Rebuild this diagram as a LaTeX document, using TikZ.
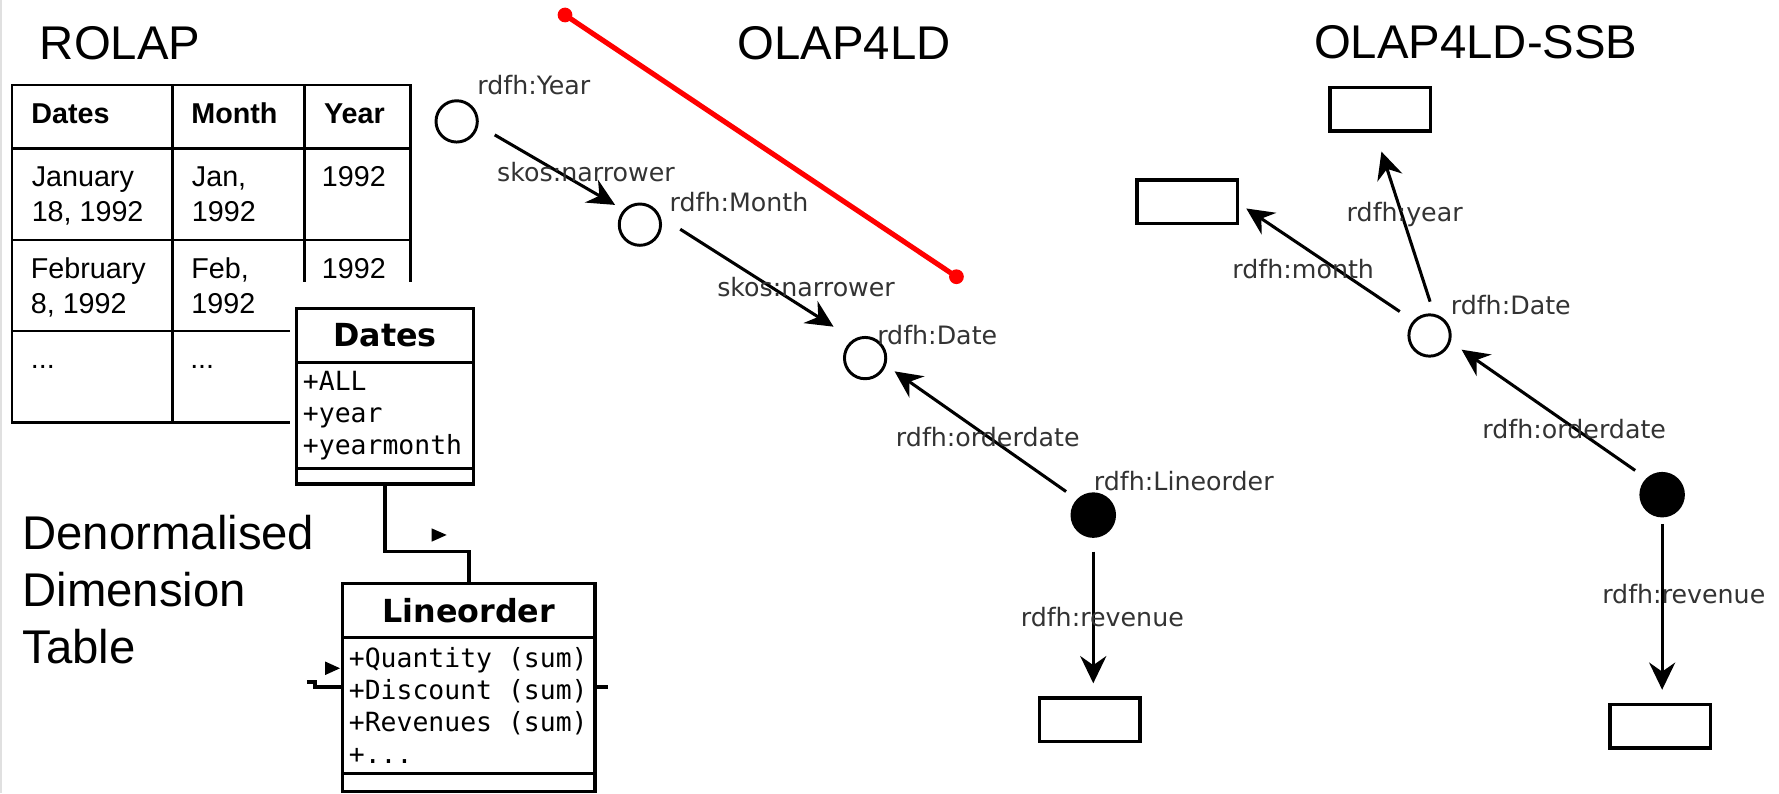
\documentclass[tikz,border=0pt]{standalone}
\usepackage{fontspec}
\setmainfont{Liberation Sans}
\newfontfamily\rdffont{DejaVu Sans}
\newfontfamily\umlfont{DejaVu Sans Mono}[WordSpace={1,0,0}]
\usepackage{tikz}
\usetikzlibrary{arrows.meta, positioning}
\tikzstyle{heading} = [font=\fontsize{41.7}{50}\selectfont, inner sep=0pt, anchor=base west]
\tikzstyle{cell} = [font=\fontsize{25.3}{30.7}\selectfont, inner sep=0pt, anchor=base west, align=left]
\tikzstyle{colhead} = [cell, font=\fontsize{25.3}{30.7}\selectfont\bfseries]
\tikzstyle{grid} = [line width=2.4pt]
\tikzstyle{umlbox} = [draw, rectangle, fill=white, line width=3pt, outer sep=0pt, inner sep=0pt]
\tikzstyle{umlname} = [umlbox, font=\rdffont\fontsize{28}{32}\selectfont\bfseries]
\tikzstyle{umlattrs} = [umlbox, font=\umlfont\fontsize{23.3}{28}\selectfont, align=left, inner xsep=5.5pt, execute at begin node={\spaceskip=0pt\relax}]
\tikzstyle{assoc} = [line width=3pt]
\tikzstyle{resource} = [draw, circle, line width=2.6pt, minimum size=36.4pt, inner sep=0pt, outer sep=0pt]
\tikzstyle{fact} = [resource, fill=black, minimum size=37.5pt]
\tikzstyle{literal} = [draw, rectangle, line width=3pt, minimum width=88.6pt, minimum height=38.5pt, outer sep=0pt]
\tikzstyle{prop} = [font=\rdffont\fontsize{22.3}{26}\selectfont, text=black!80, inner sep=0pt, anchor=base west]
\tikzstyle{link} = [-{Stealth[length=24pt, width=23pt, inset=8pt]}, line width=2.7pt]
\tikzstyle{marker} = [red, line width=4.5pt]

\begin{document}
\begin{tikzpicture}[x=1pt, y=-1pt]
    \useasboundingbox (0,0) rectangle (1568,699);
    \draw [black!12, line width=1.5pt] (0.8,0) -- (0.8,699);

    % Headings (a multi-line node sits on its last baseline).
    \node (rolap) [heading] at (35,52.3) {ROLAP};
    \node (olap) [heading] at (650,52.3) {OLAP4LD};
    \node (ssb) [heading] at (1158,51.4) {OLAP4LD-SSB};
    \node (denorm) [heading, align=left] at (19.6,584.7) {Denormalised\\Dimension\\Table};

    % Dimension table.
    \draw [grid] (10.5,74.9) rectangle (361.7,372.5);
    \foreach\x in {152.3, 268.3} {
        \draw [grid] (\x,74.9) -- (\x,372.5);
    }
    \foreach\y in {130.7, 211.5, 291.7} {
        \draw [grid] (10.5,\y) -- (361.7,\y);
    }

    \node (hdDates) [colhead] at (27.5,108.7) {Dates};
    \node (hdMonth) [colhead] at (168.5,108.7) {Month};
    \node (hdYear) [colhead] at (285.5,108.7) {Year};

    \node (day1) [cell] at (27.8,195.2) {January\\18, 1992};
    \node (month1) [cell] at (169,195.2) {Jan,\\1992};
    \node (year1) [cell] at (283.5,164.5) {1992};
    \node (day2) [cell] at (27,276) {February\\8, 1992};
    \node (month2) [cell] at (168.5,276) {Feb,\\1992};
    \node (year2) [cell] at (283.5,245.3) {1992};
    \node (day3) [cell] at (27,325) {...};
    \node (month3) [cell] at (167.5,325) {...};

    % The class diagram lies over the table.
    \fill [white] (255.6,248.5) rectangle (366,380);

    % Classes.
    \node (datesName) [umlname, minimum width=155.7pt, minimum height=47.8pt] at (339.4,295.7) {Dates};
    \node (datesAttrs) [umlattrs, below=0pt of datesName, text width=144.7pt, minimum height=93.2pt] {+ALL\\+year\\+yearmonth};
    \node (datesOps) [umlbox, below=0pt of datesAttrs, minimum width=155.7pt, minimum height=13.8pt] {};

    \node (lineName) [umlname, minimum width=222.4pt, minimum height=47.6pt] at (413.2,537.9) {Lineorder};
    \node (lineAttrs) [umlattrs, below=0pt of lineName, text width=211.4pt, minimum height=119.9pt] {+Quantity (sum)\\+Discount (sum)\\+Revenues (sum)\\+...};
    \node (lineOps) [umlbox, below=0pt of lineAttrs, minimum width=222.4pt, minimum height=16.1pt] {};

    \draw [assoc] (datesOps.south) -- ++(0,59.6) -| (lineName.north);
    \fill (380.5,465.7) -- (393.7,471.5) -- (380.5,477.4) -- cycle;

    \coordinate (stubLeft) at (270.5,601);
    \coordinate (stubJog) at (277.6,605.5);
    \coordinate (stubRight) at (536,605.5);
    \draw [assoc] (stubLeft) -| (stubJog) -- (stubJog -| lineAttrs.west);
    \draw [assoc] (stubRight -| lineAttrs.east) -- (stubRight);
    \fill (286.5,583) -- (299.7,589) -- (286.5,595) -- cycle;

    % OLAP4LD.
    \node (year4ld) [resource] at (402.5,107) {};
    \node (month4ld) [resource] at (564,198) {};
    \node (date4ld) [resource] at (762.5,315.6) {};
    \node (order4ld) [fact] at (963.6,454) {};
    \node (revenue4ld) [literal] at (960.5,634.3) {};

    \draw [link, shorten <=18pt, shorten >=9.9pt] (year4ld.-9.4) -- (month4ld.137.4);
    \draw [link, shorten <=22.9pt, shorten >=22.2pt] (month4ld.27.1) -- (date4ld.120.6);
    \draw [link, shorten <=13.1pt, shorten >=10.6pt] (order4ld.135.3) -- (date4ld.-18.9);
    \draw [link, shorten <=13.4pt, shorten >=12.8pt] (order4ld.south) -- (order4ld.south |- revenue4ld.north);

    \node (year4ldLbl) [prop] at (420.5,83.7) {rdfh:Year};
    \node (month4ldLbl) [prop] at (590,186.6) {rdfh:Month};
    \node (date4ldLbl) [prop] at (773,304) {rdfh:Date};
    \node (order4ldLbl) [prop] at (964,431.9) {rdfh:Lineorder};
    \node (narrower1) [prop] at (438,160) {skos:narrower};
    \node (narrower2) [prop] at (632,261.5) {skos:narrower};
    \node (orderdate4ld) [prop] at (789.5,393.7) {rdfh:orderdate};
    \node (revenue4ldLbl) [prop] at (899.5,552.3) {rdfh:revenue};

    % OLAP4LD-SSB.
    \node (yearSsb) [literal] at (1216.5,96.2) {};
    \node (monthSsb) [literal] at (1046.6,177.9) {};
    \node (dateSsb) [resource] at (1260,295.7) {};
    \node (orderSsb) [fact] at (1465,436) {};
    \node (revenueSsb) [literal] at (1463.5,640.2) {};

    \draw [link, shorten <=12.8pt, shorten >=19.1pt] (dateSsb.76.3) -- (yearSsb.-104);
    \draw [link, shorten <=15.6pt, shorten >=9.1pt] (dateSsb.137.5) -- (monthSsb.-1.9);
    \draw [link, shorten <=13.4pt, shorten >=13.1pt] (orderSsb.133.9) -- (dateSsb.-16.9);
    \draw [link, shorten <=7pt, shorten >=13pt] (orderSsb.south) -- (orderSsb.south |- revenueSsb.north);

    \node (dateSsbLbl) [prop] at (1278.5,277.6) {rdfh:Date};
    \node (yearLbl) [prop] at (1186.8,195.4) {rdfh:year};
    \node (monthLbl) [prop] at (1086,245.3) {rdfh:month};
    \node (orderdateSsb) [prop] at (1306.4,386.3) {rdfh:orderdate};
    \node (revenueSsbLbl) [prop] at (1412,531.8) {rdfh:revenue};

    % Red stroke across the OLAP4LD hierarchy.
    \coordinate (markA) at (498,13.2);
    \coordinate (markB) at (843,243.9);
    \draw [marker] (markA) -- (markB);
    \fill [red] (markA) circle [radius=6.5pt] (markB) circle [radius=6.5pt];
\end{tikzpicture}
\end{document}
